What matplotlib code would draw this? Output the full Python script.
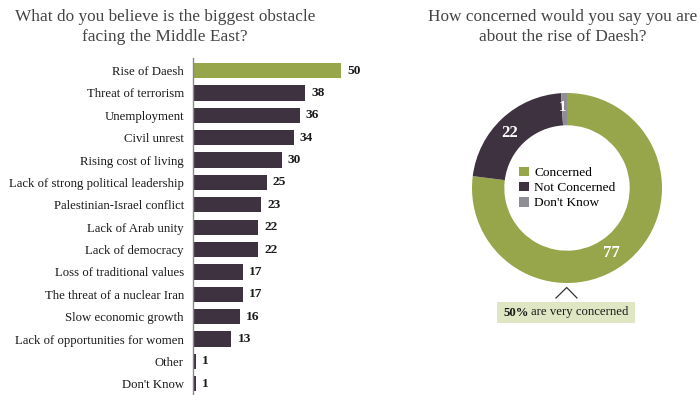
import matplotlib
matplotlib.use('Agg')
import matplotlib.pyplot as plt

plt.rcParams['font.family']=['Liberation Serif','DejaVu Serif']

GREEN='#97a54b';DARK='#3e3240';GREY='#8f8e94';TXT='#333333'

obstacles=['Rise of Daesh','Threat of terrorism','Unemployment','Civil unrest','Rising cost of living',
           'Lack of strong political leadership','Palestinian-Israel conflict','Lack of Arab unity',
           'Lack of democracy','Loss of traditional values','The threat of a nuclear Iran',
           'Slow economic growth','Lack of opportunities for women','Other',"Don't Know"]
obstacle_pct=[50,38,36,34,30,25,23,22,22,17,17,16,13,1,1]

concern_labels=['Concerned','Not Concerned',"Don't Know"]
concern_pct=[77,22,1]
concern_colors=[GREEN,DARK,GREY]

W,H=699,395
fig=plt.figure(figsize=(W/100,H/100),dpi=100)

# left: horizontal bars
ax=fig.add_axes([193/W,0,177.6/W,1-58/H])
ypos=list(range(len(obstacles)))
cols=[GREEN]+[DARK]*(len(obstacles)-1)
ax.barh(ypos,obstacle_pct,height=0.68,color=cols)
for y,v in zip(ypos,obstacle_pct):
    ax.text(v+2,y,str(v),va='center',ha='left',fontsize=9.6,fontweight='bold',color='#1a1a1a')
ax.set_xlim(0,60);ax.set_ylim(14.5,-0.56)
ax.set_yticks(ypos);ax.set_yticklabels(obstacles,fontsize=9.2,color='#1a1a1a')
ax.tick_params(axis='y',length=0,pad=6.5);ax.set_xticks([])
for s in ['top','right','bottom']:ax.spines[s].set_visible(False)
ax.spines['left'].set_color('#888888');ax.spines['left'].set_linewidth(1)
fig.text(165/W,1-27/H,'What do you believe is the biggest obstacle\nfacing the Middle East?',
         ha='center',va='center',fontsize=12.4,color='#444444',linespacing=1.35)

# right: donut
cx,cy,r=567,188,95
dx=fig.add_axes([(cx-r)/W,(H-cy-r)/H,2*r/W,2*r/H])
wedges,_=dx.pie(concern_pct,colors=concern_colors,startangle=90,counterclock=False,radius=1,
                wedgeprops=dict(width=0.34,linewidth=0))
dx.set_xlim(-1,1);dx.set_ylim(-1,1);dx.set_aspect('equal');dx.axis('off')
label_pos=[(0.47,-0.68),(-0.6,0.58),(-0.05,0.85)]
label_size=[12,12,10.5]
for (x,y),v,fs in zip(label_pos,concern_pct,label_size):
    dx.text(x,y,str(v),ha='center',va='center',color='white',fontsize=fs,fontweight='bold')
dx.legend(wedges,concern_labels,loc='center',frameon=False,fontsize=9.6,handlelength=0.75,
          handleheight=0.75,handletextpad=0.4,labelspacing=0.2,borderaxespad=0,
          bbox_to_anchor=(0.5,0.5))
fig.text(563/W,1-27/H,'How concerned would you say you are\nabout the rise of Daesh?',
         ha='center',va='center',fontsize=12.4,color='#444444',linespacing=1.35)

# caret and callout box
fig.add_artist(plt.Line2D([556/W,566.7/W,577/W],[1-298/H,1-287.5/H,1-298/H],color='#333333',lw=0.9))
fig.add_artist(plt.Rectangle((497/W,1-323/H),138/W,21/H,color='#dfe6c3',lw=0))
fig.text(503/W,1-312.5/H,'50%',ha='left',va='center',fontsize=9.2,fontweight='bold',color='#1a1a1a')
fig.text(531/W,1-312.5/H,'are very concerned',ha='left',va='center',fontsize=9.2,color='#1a1a1a')

fig.savefig('out.png',dpi=100)
